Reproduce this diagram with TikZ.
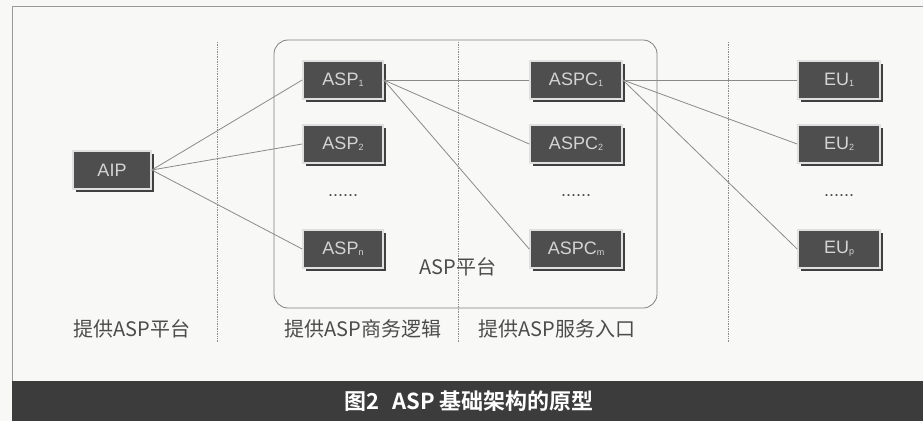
\documentclass[tikz,border=0pt]{standalone}
\usepackage{fontspec}
\setmainfont{Liberation Sans}
\newfontfamily\cjk{Noto Sans CJK SC}
\newfontfamily\cjkb{Noto Sans CJK SC Bold}
\usetikzlibrary{shadows}
\definecolor{paper}{HTML}{F8F8F6}
\definecolor{boxfill}{HTML}{4E4E4E}
\definecolor{boxtext}{HTML}{D4D4D4}
\definecolor{linegray}{HTML}{8A8A8A}
\definecolor{banner}{HTML}{3C3C3C}
\tikzset{
  nodebox/.style={draw=black!12, line width=1.6pt, fill=boxfill, text=boxtext,
    minimum height=38pt, inner sep=2pt, font=\fontsize{18}{18}\selectfont,
    drop shadow={shadow xshift=2.5pt, shadow yshift=-2.5pt, fill=black!75, opacity=1}},
  conn/.style={draw=linegray, line width=0.8pt},
  divider/.style={draw=black!45, line width=0.7pt, densely dotted},
  lbl/.style={text=black!70, font=\cjk\fontsize{20}{20}\selectfont},
  dots/.style={text=black!70, font=\fontsize{18}{18}\selectfont}
}
\newcommand{\sbs}[1]{\raisebox{-0.1ex}{\fontsize{9}{9}\selectfont #1}}
\begin{document}
\begin{tikzpicture}[x=1pt,y=-1pt]
\useasboundingbox (0,0) rectangle (923,421);
\fill[paper] (0,0) rectangle (923,421);
% frame
\draw[black!40, line width=1pt] (12,381) -- (12,6) -- (923,6);
\fill[banner] (12,381) rectangle (923,421);
\node[text=white, font=\cjkb\fontsize{22}{22}\selectfont] (cap) at (469,401) {图2\hspace{0.6em}ASP 基础架构的原型};
% dividers
\draw[divider] (217,42) -- (217,342);
\draw[divider] (728,42) -- (728,342);
% platform
\draw[black!50, line width=0.8pt, rounded corners=14pt, fill=paper] (274,40) rectangle (657,308);
\draw[divider] (458,42) -- (458,342);
% nodes
\node[nodebox, minimum width=78pt] (aip) at (112,170) {AIP};
\node[nodebox, minimum width=80pt] (asp1) at (343,80) {ASP\sbs{1}};
\node[nodebox, minimum width=80pt] (asp2) at (343,144) {ASP\sbs{2}};
\node[dots] (aspd) at (343,196) {......};
\node[nodebox, minimum width=80pt] (aspn) at (343,249) {ASP\sbs{n}};
\node[nodebox, minimum width=92pt] (aspc1) at (576,80) {ASPC\sbs{1}};
\node[nodebox, minimum width=92pt] (aspc2) at (576,144) {ASPC\sbs{2}};
\node[dots] (aspcd) at (576,196) {......};
\node[nodebox, minimum width=92pt] (aspcm) at (576,249) {ASPC\sbs{m}};
\node[nodebox, minimum width=82pt] (eu1) at (839,80) {EU\sbs{1}};
\node[nodebox, minimum width=82pt] (eu2) at (839,144) {EU\sbs{2}};
\node[dots] (eud) at (839,196) {......};
\node[nodebox, minimum width=82pt] (eup) at (839,249) {EU\sbs{p}};
% connectors
\draw[conn] (aip.east) -- (asp1.west);
\draw[conn] (aip.east) -- (asp2.west);
\draw[conn] (aip.east) -- (aspn.west);
\draw[conn] (asp1.east) -- (aspc1.west);
\draw[conn] (asp1.east) -- (aspc2.west);
\draw[conn] (asp1.east) -- (aspcm.west);
\draw[conn] (aspc1.east) -- (eu1.west);
\draw[conn] (aspc1.east) -- (eu2.west);
\draw[conn] (aspc1.east) -- (eup.west);
% labels
\node[lbl] (plat) at (458,267) {ASP平台};
\node[lbl] (l1) at (132,329) {提供ASP平台};
\node[lbl] (l2) at (363,329) {提供ASP商务逻辑};
\node[lbl] (l3) at (557,329) {提供ASP服务入口};
\end{tikzpicture}
\end{document}
